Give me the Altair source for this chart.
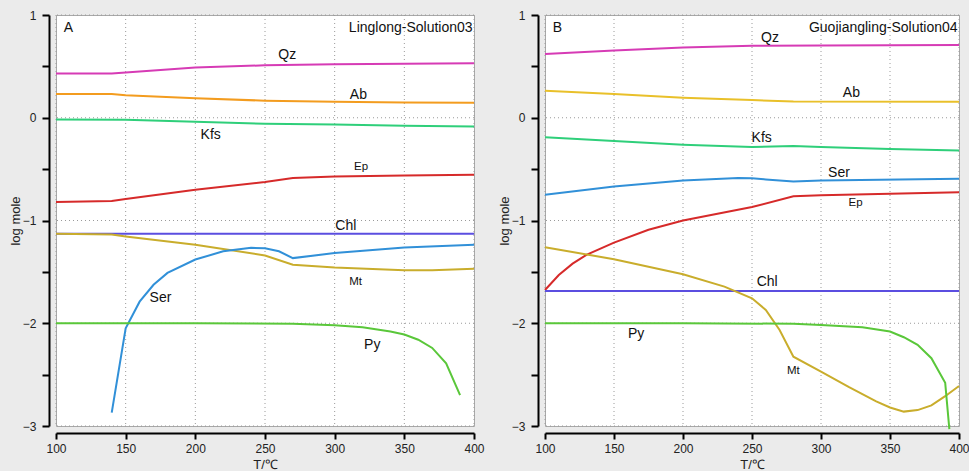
import altair as alt
import pandas as pd

# ---------------- data: panel A (Linglong-Solution03) ----------------
A_Qz_T = [100, 140, 150, 200, 250, 300, 350, 400]
A_Qz_v = [0.43, 0.43, 0.44, 0.49, 0.51, 0.52, 0.525, 0.53]
A_Ab_T = [100, 140, 150, 200, 250, 300, 350, 400]
A_Ab_v = [0.23, 0.23, 0.22, 0.19, 0.166, 0.155, 0.148, 0.146]
A_Kfs_T = [100, 150, 200, 250, 300, 350, 400]
A_Kfs_v = [-0.016, -0.02, -0.04, -0.058, -0.065, -0.078, -0.085]
A_Ep_T = [100, 140, 150, 200, 250, 270, 300, 350, 400]
A_Ep_v = [-0.82, -0.81, -0.79, -0.70, -0.626, -0.587, -0.571, -0.562, -0.555]
A_Chl_T = [100, 400]
A_Chl_v = [-1.13, -1.13]
A_Mt_T = [100, 140, 150, 200, 250, 270, 300, 350, 370, 400]
A_Mt_v = [-1.13, -1.136, -1.155, -1.237, -1.34, -1.43, -1.457, -1.483, -1.483, -1.47]
A_Ser_T = [140, 150, 160, 170, 180, 200, 220, 240, 250, 260, 270, 300, 350, 400]
A_Ser_v = [-2.87, -2.05, -1.79, -1.626, -1.51, -1.38, -1.30, -1.266, -1.27, -1.30, -1.366, -1.317, -1.263, -1.237]
A_Py_T = [100, 200, 270, 300, 320, 340, 350, 360, 370, 380, 390]
A_Py_v = [-2.0, -2.0, -2.005, -2.02, -2.04, -2.08, -2.11, -2.16, -2.24, -2.39, -2.70]

# ---------------- data: panel B (Guojiangling-Solution04) ----------------
B_Qz_T = [100, 150, 200, 250, 300, 400]
B_Qz_v = [0.62, 0.655, 0.684, 0.70, 0.703, 0.707]
B_Ab_T = [100, 150, 200, 250, 280, 400]
B_Ab_v = [0.263, 0.23, 0.195, 0.172, 0.159, 0.156]
B_Kfs_T = [100, 150, 200, 250, 280, 300, 350, 400]
B_Kfs_v = [-0.19, -0.227, -0.263, -0.285, -0.276, -0.285, -0.305, -0.318]
B_Ser_T = [100, 150, 200, 240, 250, 260, 280, 300, 400]
B_Ser_v = [-0.749, -0.668, -0.61, -0.587, -0.59, -0.60, -0.62, -0.61, -0.593]
B_Ep_T = [100, 110, 120, 130, 150, 175, 200, 250, 280, 300, 400]
B_Ep_v = [-1.676, -1.53, -1.42, -1.335, -1.215, -1.09, -1.0, -0.869, -0.765, -0.755, -0.726]
B_Chl_T = [100, 400]
B_Chl_v = [-1.685, -1.685]
B_Mt_T = [100, 150, 200, 230, 250, 260, 270, 280, 300, 320, 340, 350, 360, 370, 380, 390, 400]
B_Mt_v = [-1.26, -1.377, -1.523, -1.643, -1.757, -1.87, -2.065, -2.325, -2.47, -2.62, -2.76, -2.82, -2.86, -2.845, -2.80, -2.71, -2.61]
B_Py_T = [100, 200, 280, 300, 330, 350, 360, 370, 380, 390, 393]
B_Py_v = [-2.0, -2.0, -2.005, -2.017, -2.04, -2.08, -2.136, -2.21, -2.34, -2.58, -3.03]

# ---------------- labels ----------------
A_lab_text = ["Qz", "Ab", "Kfs", "Ep", "Chl", "Mt", "Ser", "Py"]
A_lab_T = [266, 317, 211, 319, 308, 315, 175, 327]
A_lab_v = [0.61, 0.224, -0.166, -0.477, -1.05, -1.60, -1.75, -2.21]
A_lab_small = [False, False, False, True, False, True, False, False]

B_lab_text = ["Qz", "Ab", "Kfs", "Ser", "Ep", "Chl", "Py", "Mt"]
B_lab_T = [263, 322, 257, 313, 325, 261, 166, 280]
B_lab_v = [0.78, 0.243, -0.195, -0.535, -0.83, -1.60, -2.10, -2.46]
B_lab_small = [False, False, False, False, True, False, False, True]

A_letter, A_title = "A", "Linglong-Solution03"
B_letter, B_title = "B", "Guojiangling-Solution04"

series_order = ["Qz", "Ab", "Kfs", "Ep", "Chl", "Mt", "Ser", "Py"]
colors_A = ["#d63bb5", "#f39c1f", "#2fcf7a", "#d62a2a", "#5b4ee0", "#c9ad2c", "#3190d8", "#5ac73a"]
colors_B = ["#d63bb5", "#e9c02a", "#2fcf7a", "#d62a2a", "#5b4ee0", "#c9ad2c", "#3190d8", "#5ac73a"]

# axis ticks / grid positions
y_ticks = [-3, -2.5, -2, -1.5, -1, -0.5, 0, 0.5, 1]
x_ticks = list(range(100, 401, 25))
y_grid = [-3, -2, -1, 0, 1]
x_grid = [100, 150, 200, 250, 300, 350, 400]

FONT = "Liberation Sans"
H = 411


def long_df(pairs):
    rows = []
    for name, T, v in pairs:
        for t, val in zip(T, v):
            rows.append({"mineral": name, "T": t, "v": val})
    return pd.DataFrame(rows)


dfA = long_df([
    ("Qz", A_Qz_T, A_Qz_v), ("Ab", A_Ab_T, A_Ab_v), ("Kfs", A_Kfs_T, A_Kfs_v),
    ("Ep", A_Ep_T, A_Ep_v), ("Chl", A_Chl_T, A_Chl_v), ("Mt", A_Mt_T, A_Mt_v),
    ("Ser", A_Ser_T, A_Ser_v), ("Py", A_Py_T, A_Py_v),
])
dfB = long_df([
    ("Qz", B_Qz_T, B_Qz_v), ("Ab", B_Ab_T, B_Ab_v), ("Kfs", B_Kfs_T, B_Kfs_v),
    ("Ser", B_Ser_T, B_Ser_v), ("Ep", B_Ep_T, B_Ep_v), ("Chl", B_Chl_T, B_Chl_v),
    ("Mt", B_Mt_T, B_Mt_v), ("Py", B_Py_T, B_Py_v),
])

x_scale = alt.Scale(domain=[100, 400], nice=False, zero=False)
y_scale = alt.Scale(domain=[-3, 1], nice=False, zero=False)

x_axis = alt.Axis(
    values=x_ticks, title="T/℃", grid=False, labelFlush=False,
    labelExpr="datum.value % 50 === 0 ? format(datum.value, 'd') : ''",
    tickSize=6, labelPadding=4, titlePadding=4, offset=7,
)
y_axis = alt.Axis(
    values=y_ticks, title="log mole", grid=False,
    labelExpr="datum.value % 1 === 0 ? format(datum.value, 'd') : ''",
    tickSize=7, labelPadding=6, titlePadding=0, offset=7,
)

GRID_COLOR = "#9a9a9a"


def panel(df, colors, lab_text, lab_T, lab_v, lab_small, letter, title, width):
    vgrid = alt.Chart(pd.DataFrame({"g": x_grid})).mark_rule(
        color=GRID_COLOR, strokeDash=[1, 3], strokeWidth=1
    ).encode(x=alt.X("g:Q", scale=x_scale, axis=x_axis))
    hgrid = alt.Chart(pd.DataFrame({"g": y_grid})).mark_rule(
        color=GRID_COLOR, strokeDash=[1, 3], strokeWidth=1
    ).encode(y=alt.Y("g:Q", scale=y_scale, axis=y_axis))
    lines = alt.Chart(df).mark_line(strokeWidth=2).encode(
        x=alt.X("T:Q", scale=x_scale, axis=x_axis),
        y=alt.Y("v:Q", scale=y_scale, axis=y_axis),
        color=alt.Color("mineral:N", scale=alt.Scale(domain=series_order, range=colors), legend=None),
        detail="mineral:N",
    )
    labdf = pd.DataFrame({"text": lab_text, "T": lab_T, "v": lab_v, "small": lab_small})
    big = alt.Chart(labdf[~labdf["small"]]).mark_text(
        font=FONT, fontSize=14, color="#111", align="center", baseline="middle"
    ).encode(x="T:Q", y="v:Q", text="text:N")
    small = alt.Chart(labdf[labdf["small"]]).mark_text(
        font=FONT, fontSize=11.5, color="#111", align="center", baseline="middle"
    ).encode(x="T:Q", y="v:Q", text="text:N")
    cap_df = pd.DataFrame({"text": [letter], "T": [105.6], "v": [0.87]})
    cap = alt.Chart(cap_df).mark_text(
        font=FONT, fontSize=14, color="#111", align="left", baseline="middle"
    ).encode(x="T:Q", y="v:Q", text="text:N")
    tit_df = pd.DataFrame({"text": [title], "T": [399], "v": [0.875]})
    tit = alt.Chart(tit_df).mark_text(
        font=FONT, fontSize=14, color="#111", align="right", baseline="middle"
    ).encode(x="T:Q", y="v:Q", text="text:N")
    return alt.layer(vgrid, hgrid, lines, big, small, cap, tit).properties(width=width, height=H)


left = panel(dfA, colors_A, A_lab_text, A_lab_T, A_lab_v, A_lab_small, A_letter, A_title, 418)
right = panel(dfB, colors_B, B_lab_text, B_lab_T, B_lab_v, B_lab_small, B_letter, B_title, 414)

chart = alt.hconcat(left, right, spacing=12).resolve_scale(color="independent").properties(
    background="#ebebeb",
    padding={"left": 8, "top": 8, "right": -1, "bottom": 0},
).configure_view(
    fill="white", stroke="#a8a8a8", strokeWidth=1
).configure_axis(
    domainColor="black", domainWidth=2, tickColor="black", tickWidth=2,
    labelFont=FONT, labelFontSize=12, labelColor="#222",
    titleFont=FONT, titleFontSize=13, titleFontWeight="normal", titleColor="#222",
)

chart.save("out.html", embed_options={"renderer": "svg", "actions": False})
